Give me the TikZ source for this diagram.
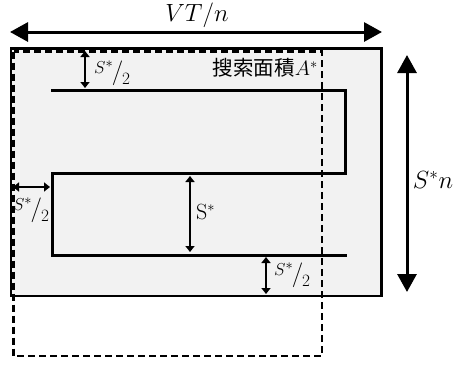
\documentclass[tikz,border=0pt]{standalone}
\usepackage{fontspec}
\newfontfamily\cjk{Noto Sans CJK JP}
\usetikzlibrary{arrows.meta}
\definecolor{areafill}{RGB}{242,242,242}
\newcommand{\halfS}{{\fontsize{19}{22}\selectfont\raisebox{6pt}{$S^{*}$}\kern-1.5pt{\fontsize{24}{28}\selectfont$/$}\kern-1pt\raisebox{-5pt}{$2$}}}
\begin{document}
\begin{tikzpicture}[x=1pt,y=-1pt,
  bigarrow/.style={line width=3pt,{Triangle[length=18pt,width=19pt]}-{Triangle[length=18pt,width=19pt]}},
  smallarrow/.style={line width=2.5pt,{Triangle[length=6pt,width=9pt]}-{Triangle[length=6pt,width=9pt]}},
  lbl/.style={inner sep=0pt},
  path3/.style={line width=3pt,line join=miter}]
\useasboundingbox (0,0) rectangle (466,365);
% search area rectangle
\draw[line width=2.5pt,fill=areafill] (11,48.5) rectangle (381.5,296);
% sweep path
\coordinate (p1) at (51,90);
\coordinate (p2) at (345.5,90);
\coordinate (p3) at (345.5,173);
\coordinate (p4) at (52,173);
\coordinate (p5) at (52,255);
\coordinate (p6) at (347,255);
\draw[path3] (p1) -- (p2) -- (p3) -- (p4) -- (p5) -- (p6);
% dashed rectangle
\draw[line width=2.5pt,dash pattern=on 7pt off 4pt] (13.5,51.5) rectangle (322,356);
% VT/n arrow
\coordinate (vl) at (10,32);
\coordinate (vr) at (382,32);
\draw[bigarrow] (vl) -- (vr);
\node[lbl,font=\fontsize{26}{30}\selectfont] (vtn) at (197,15) {$VT/n$};
% S*n arrow
\coordinate (st) at (407,55);
\coordinate (sb) at (407,292);
\draw[bigarrow] (st) -- (sb);
\node[lbl,font=\fontsize{26}{30}\selectfont] (sn) at (433,180) {$S^{*}n$};
% top S*/2
\coordinate (a1) at (85,51);
\coordinate (a2) at (85,88);
\draw[smallarrow] (a1) -- (a2);
\node[lbl,anchor=west] (h1) at (94,73) {\halfS};
% left S*/2
\coordinate (b1) at (13,187);
\coordinate (b2) at (50,187);
\draw[smallarrow] (b1) -- (b2);
\node[lbl] (h2) at (31,210) {\halfS};
% bottom S*/2
\coordinate (c1) at (266,257);
\coordinate (c2) at (266,294);
\draw[smallarrow] (c1) -- (c2);
\node[lbl,anchor=west] (h3) at (274,275) {\halfS};
% S* arrow
\coordinate (d1) at (190,176);
\coordinate (d2) at (190,252);
\draw[smallarrow] (d1) -- (d2);
\node[lbl,font=\fontsize{22}{26}\selectfont,anchor=west] (sstar) at (196,212) {S$^{*}$};
% area label
\node[lbl,anchor=east,font=\fontsize{20.5}{24}\selectfont] (area) at (318,68) {\cjk 搜索面積$A^{*}$};
\end{tikzpicture}
\end{document}
